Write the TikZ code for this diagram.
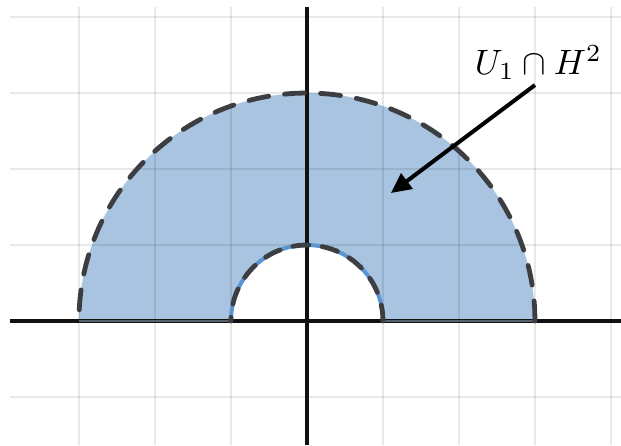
\documentclass[tikz,border=0pt]{standalone}
\usetikzlibrary{arrows.meta}
\definecolor{regionblue}{RGB}{169,196,225}
\definecolor{edgeblue}{RGB}{91,150,210}
\definecolor{dashgray}{RGB}{60,62,66}
\definecolor{axisblack}{RGB}{17,17,17}
\tikzset{
  gridline/.style={black,opacity=0.09,line width=0.9pt},
  axisline/.style={axisblack,line width=1.3pt},
  boundary/.style={dashgray,line width=1.8pt,line cap=round,dash pattern=on 7.5pt off 6pt},
  pointer/.style={black,line width=1.5pt,-{Triangle[length=7.5pt,width=7pt]}},
  lab/.style={inner sep=0pt,anchor=base,scale=1.32}
}
\begin{document}
\begin{tikzpicture}
\useasboundingbox (-4.039,-1.632) rectangle (4.132,4.224);
% region
\fill[regionblue] (-3,0) arc[start angle=180,end angle=0,radius=3] -- (1,0)
  arc[start angle=0,end angle=180,radius=1] -- cycle;
% grid
\foreach \x in {-3,-2,-1,1,2,3,4}
  \draw[gridline] (\x,4.13) -- (\x,-1.632);
\foreach \y in {-1,1,2,3,4}
  \draw[gridline] (-3.908,\y) -- (4.132,\y);
% axes
\coordinate (xl) at (-3.908,0);
\coordinate (xr) at (4.132,0);
\coordinate (yt) at (0,4.13);
\coordinate (yb) at (0,-1.632);
\draw[axisline] (xl) -- (xr);
\draw[axisline] (yt) -- (yb);
\draw[black!50!regionblue,line width=1pt] (-3,0) -- (-1,0) (1,0) -- (3,0);
% boundaries
\draw[edgeblue,line width=1.5pt] (1,0) arc[start angle=0,end angle=180,radius=1];
\draw[boundary] (3,0) arc[start angle=0,end angle=180,radius=3];
\draw[boundary,dash pattern=on 6pt off 5pt] (1,0) arc[start angle=0,end angle=180,radius=1];
% label and pointer
\node[lab] (label) at (3.046,3.25) {$U_1\cap H^2$};
\coordinate (astart) at (3.0,3.105);
\coordinate (tip) at (1.105,1.684);
\draw[pointer] (astart) -- (tip);
\end{tikzpicture}
\end{document}
